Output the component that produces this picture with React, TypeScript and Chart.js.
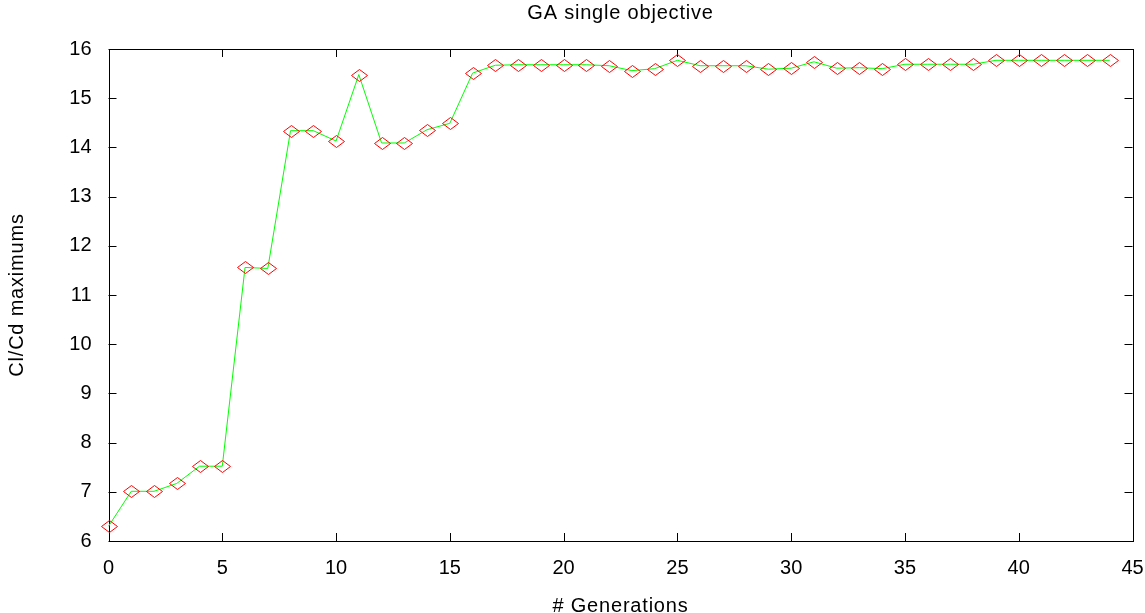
import { useEffect, useRef } from "react";
import { Chart, registerables } from "chart.js";

Chart.register(...registerables);

// Best Cl/Cd value found in each generation of the GA run
const generations = [
  0, 1, 2, 3, 4, 5, 6, 7, 8, 9, 10, 11, 12, 13, 14, 15, 16, 17, 18, 19, 20, 21,
  22, 23, 24, 25, 26, 27, 28, 29, 30, 31, 32, 33, 34, 35, 36, 37, 38, 39, 40,
  41, 42, 43, 44,
];
const clcdMax = [
  6.3, 7.01, 7.01, 7.17, 7.52, 7.52, 11.56, 11.54, 14.34, 14.34, 14.13, 15.48,
  14.09, 14.09, 14.36, 14.49, 15.51, 15.67, 15.68, 15.68, 15.68, 15.68, 15.66,
  15.56, 15.6, 15.77, 15.66, 15.66, 15.66, 15.59, 15.61, 15.74, 15.61, 15.62,
  15.6, 15.69, 15.69, 15.69, 15.69, 15.77, 15.77, 15.77, 15.77, 15.77, 15.77,
];

const xTicks = [0, 5, 10, 15, 20, 25, 30, 35, 40, 45];
const yTicks = [6, 7, 8, 9, 10, 11, 12, 13, 14, 15, 16];

const chartTitle = "GA single objective";
const xTitle = "# Generations";
const yTitle = "Cl/Cd maximums";

const FONT = '"Liberation Sans", Arial, sans-serif';
const W = 1145;
const H = 613;

// Box frame with inward, mirrored tick marks on all four sides,
// open red diamond markers on the series points, and the text titles.
const framePlugin = {
  id: "frameTicks",
  beforeDatasetsDraw(chart: any) {
    const { ctx, chartArea: a, scales } = chart;
    const tl = 8;
    ctx.save();
    ctx.strokeStyle = "#000";
    ctx.lineWidth = 1;
    ctx.beginPath();
    for (const v of xTicks) {
      const px = Math.round(scales.x.getPixelForValue(v)) + 0.5;
      ctx.moveTo(px, a.bottom);
      ctx.lineTo(px, a.bottom - tl);
      ctx.moveTo(px, a.top);
      ctx.lineTo(px, a.top + tl);
    }
    for (const v of yTicks) {
      const py = Math.round(scales.y.getPixelForValue(v)) + 0.5;
      ctx.moveTo(a.left, py);
      ctx.lineTo(a.left + tl, py);
      ctx.moveTo(a.right, py);
      ctx.lineTo(a.right - tl, py);
    }
    ctx.stroke();
    ctx.strokeRect(
      Math.round(a.left) + 0.5,
      Math.round(a.top) + 0.5,
      Math.round(a.right - a.left),
      Math.round(a.bottom - a.top)
    );
    ctx.restore();
  },
  afterDatasetsDraw(chart: any) {
    const { ctx } = chart;
    const meta = chart.getDatasetMeta(0);
    ctx.save();
    ctx.strokeStyle = "#ff0000";
    ctx.lineWidth = 1;
    ctx.beginPath();
    for (const el of meta.data) {
      const cx = Math.round(el.x) + 0.5;
      const cy = Math.round(el.y) + 0.5;
      ctx.moveTo(cx - 8, cy);
      ctx.lineTo(cx, cy - 6);
      ctx.lineTo(cx + 8, cy);
      ctx.lineTo(cx, cy + 6);
      ctx.closePath();
    }
    ctx.stroke();
    ctx.restore();
  },
  afterDraw(chart: any) {
    const { ctx, chartArea: a } = chart;
    const cx = (a.left + a.right) / 2;
    ctx.save();
    ctx.fillStyle = "#000";
    ctx.font = `20px ${FONT}`;
    ctx.textAlign = "center";
    ctx.textBaseline = "alphabetic";
    (ctx as any).letterSpacing = "0.8px";
    ctx.fillText(chartTitle, cx, 18.5);
    ctx.fillText(xTitle, cx, 611.5);
    ctx.translate(22.5, (a.top + a.bottom) / 2);
    ctx.rotate(-Math.PI / 2);
    ctx.fillText(yTitle, 0, 0);
    ctx.restore();
  },
};

export default function App() {
  const canvasRef = useRef<HTMLCanvasElement | null>(null);

  useEffect(() => {
    const canvas = canvasRef.current;
    if (!canvas) return;
    const chart = new Chart(canvas, {
      type: "line",
      data: {
        datasets: [
          {
            data: generations.map((g, i) => ({ x: g, y: clcdMax[i] })),
            borderColor: "#00ff00",
            borderWidth: 1,
            backgroundColor: "transparent",
            pointRadius: 0,
            tension: 0,
            clip: false as any,
          },
        ],
      },
      options: {
        responsive: false,
        animation: false,
        events: [],
        layout: { padding: { top: 49, right: 12.5, bottom: 0, left: 0 } },
        plugins: {
          legend: { display: false },
          title: { display: false },
          tooltip: { enabled: false },
        },
        scales: {
          x: {
            type: "linear",
            min: 0,
            max: 45,
            afterBuildTicks: (s: any) => {
              s.ticks = xTicks.map((v) => ({ value: v }));
            },
            afterFit: (s: any) => {
              s.height = H - 541;
              s.paddingLeft = 0;
              s.paddingRight = 0;
            },
            grid: { display: false, drawTicks: false },
            border: { display: false },
            ticks: {
              color: "#000",
              padding: 15,
              maxRotation: 0,
              font: { family: FONT, size: 20 },
            },
          },
          y: {
            type: "linear",
            min: 6,
            max: 16,
            afterBuildTicks: (s: any) => {
              s.ticks = yTicks.map((v) => ({ value: v }));
            },
            afterFit: (s: any) => {
              s.width = 108.5;
              s.paddingTop = 0;
              s.paddingBottom = 0;
            },
            grid: { display: false, drawTicks: false },
            border: { display: false },
            ticks: {
              color: "#000",
              padding: 17,
              font: { family: FONT, size: 20 },
            },
          },
        },
      },
      plugins: [framePlugin],
    });
    return () => chart.destroy();
  }, []);

  return (
    <div style={{ position: "fixed", left: 0, top: 0, width: W, height: H, background: "#fff" }}>
      <canvas ref={canvasRef} width={W} height={H} style={{ display: "block" }} />
    </div>
  );
}
